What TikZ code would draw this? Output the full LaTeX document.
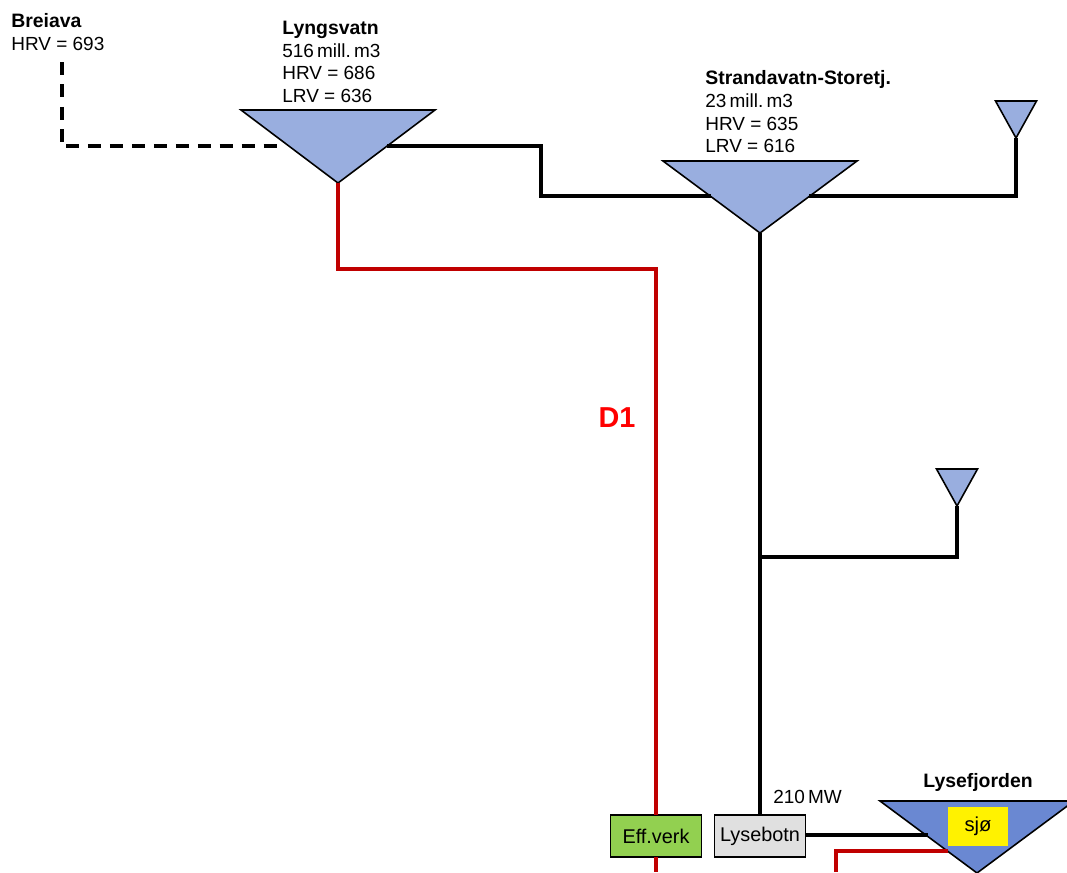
\documentclass[tikz,border=0pt]{standalone}
\usepackage{fontspec}
\setmainfont{Liberation Sans}
\usetikzlibrary{shapes.geometric}
\definecolor{resvblue}{HTML}{99AEDF}
\definecolor{seablue}{HTML}{6A88D2}
\definecolor{tunnelred}{HTML}{C00000}
\definecolor{effgreen}{HTML}{92D050}
\definecolor{plantgray}{HTML}{E0E0E0}
\newcommand{\lblhead}[1]{{\fontsize{11.05}{13}\selectfont\bfseries #1}}

\begin{document}
\begin{tikzpicture}[
  x=0.02cm, y=-0.02cm,
  resv/.style={draw, line width=0.9pt, fill=resvblue, isosceles triangle, isosceles triangle stretches,
               shape border rotate=270, inner sep=0pt, outer sep=0pt, anchor=apex,
               minimum width=3.88cm, minimum height=1.44cm},
  smallresv/.style={resv, minimum width=0.82cm, minimum height=0.74cm},
  plant/.style={draw, line width=0.7pt, minimum width=1.82cm, minimum height=0.84cm,
                inner sep=0pt, outer sep=0pt, font=\fontsize{11.3}{13}\selectfont},
  lbl/.style={align=left, anchor=north west, inner sep=0pt, font=\fontsize{10.8}{13}\selectfont},
  wtr/.style={line width=1.8pt, line join=miter},
  tun/.style={line width=1.8pt, tunnelred}
]
\clip (0,0) rectangle (1067,872);
\useasboundingbox (0,0) rectangle (1067,872);
% ---------------- reservoirs ----------------
\node[resv, minimum height=1.46cm] (lyngsvatn) at (338,183) {};
\node[resv] (strandavatn) at (760,233) {};
\node[smallresv] (topres) at (1016,138) {};
\node[smallresv] (midres) at (957,506) {};
\node[resv, fill=seablue] (lysefjorden) at (977,873) {};
% ---------------- plants ----------------
\node[plant, fill=effgreen] (effverk) at (656,836) {\raisebox{-1.2pt}{Eff.verk}};
\node[plant, fill=plantgray] (lysebotn) at (760,836) {\raisebox{-1.2pt}{Lysebotn}};
\node[fill=yellow, minimum width=1.2cm, minimum height=0.78cm, inner sep=0pt,
      font=\fontsize{11.5}{13}\selectfont] (sjo) at (978,826.5) {\raisebox{-2.4pt}{sjø}};
% ---------------- free ends ----------------
\coordinate (breiavaend) at (62,62);
\coordinate (breiavacorner) at (62,146);
\coordinate (breiavastart) at (66,146);
\coordinate (breiavain) at (282,146);
\coordinate (lyngout) at (387,146);
\coordinate (strandleft) at (711,196);
\coordinate (strandright) at (809,196);
\coordinate (branch) at (760,557);
\coordinate (seain) at (928,835);
\coordinate (seaout) at (948,851);
\coordinate (effout) at (656,872);
\coordinate (tailout) at (836,872);
% ---------------- waterways ----------------
\draw[wtr, dash pattern=on 7.4pt off 5.4pt] (breiavaend) -- (breiavacorner);
\draw[wtr, dash pattern=on 7.4pt off 5.1pt] (breiavastart) -- (breiavain);
\draw[wtr] (lyngout) -- (541,146) |- (strandleft);
\draw[wtr] (strandright) -| (topres.apex);
\draw[wtr] (strandavatn.apex) -- (lysebotn.north);
\draw[wtr] (branch) -| (midres.apex);
\draw[wtr] (lysebotn.east |- seain) -- (seain);
% ---------------- D1 tunnel ----------------
\draw[tun] (lyngsvatn.apex) |- (656,269) -- (effverk.north);
\draw[tun] (effverk.south) -- (effout);
\draw[tun] (tailout) |- (seaout);
% ---------------- labels ----------------
\node[lbl] (breiava) at (11,13) {\lblhead{Breiava}\\HRV = 693};
\node[lbl] (lyngtxt) at (282,20.5) {\lblhead{Lyngsvatn}\\516\,mill.\,m3\\HRV = 686\\LRV = 636};
\node[lbl] (strandtxt) at (705,70) {\lblhead{Strandavatn-Storetj.}\\23\,mill.\,m3\\HRV = 635\\LRV = 616};
\node[lbl, anchor=north] (fjordtxt) at (978,773) {\lblhead{Lysefjorden}};
\node[lbl] (mwtxt) at (773,790) {210\,MW};
\node[inner sep=0pt, text=red, font=\fontsize{16.4}{18}\selectfont\bfseries] (d1) at (617,418) {D1};
\end{tikzpicture}
\end{document}
